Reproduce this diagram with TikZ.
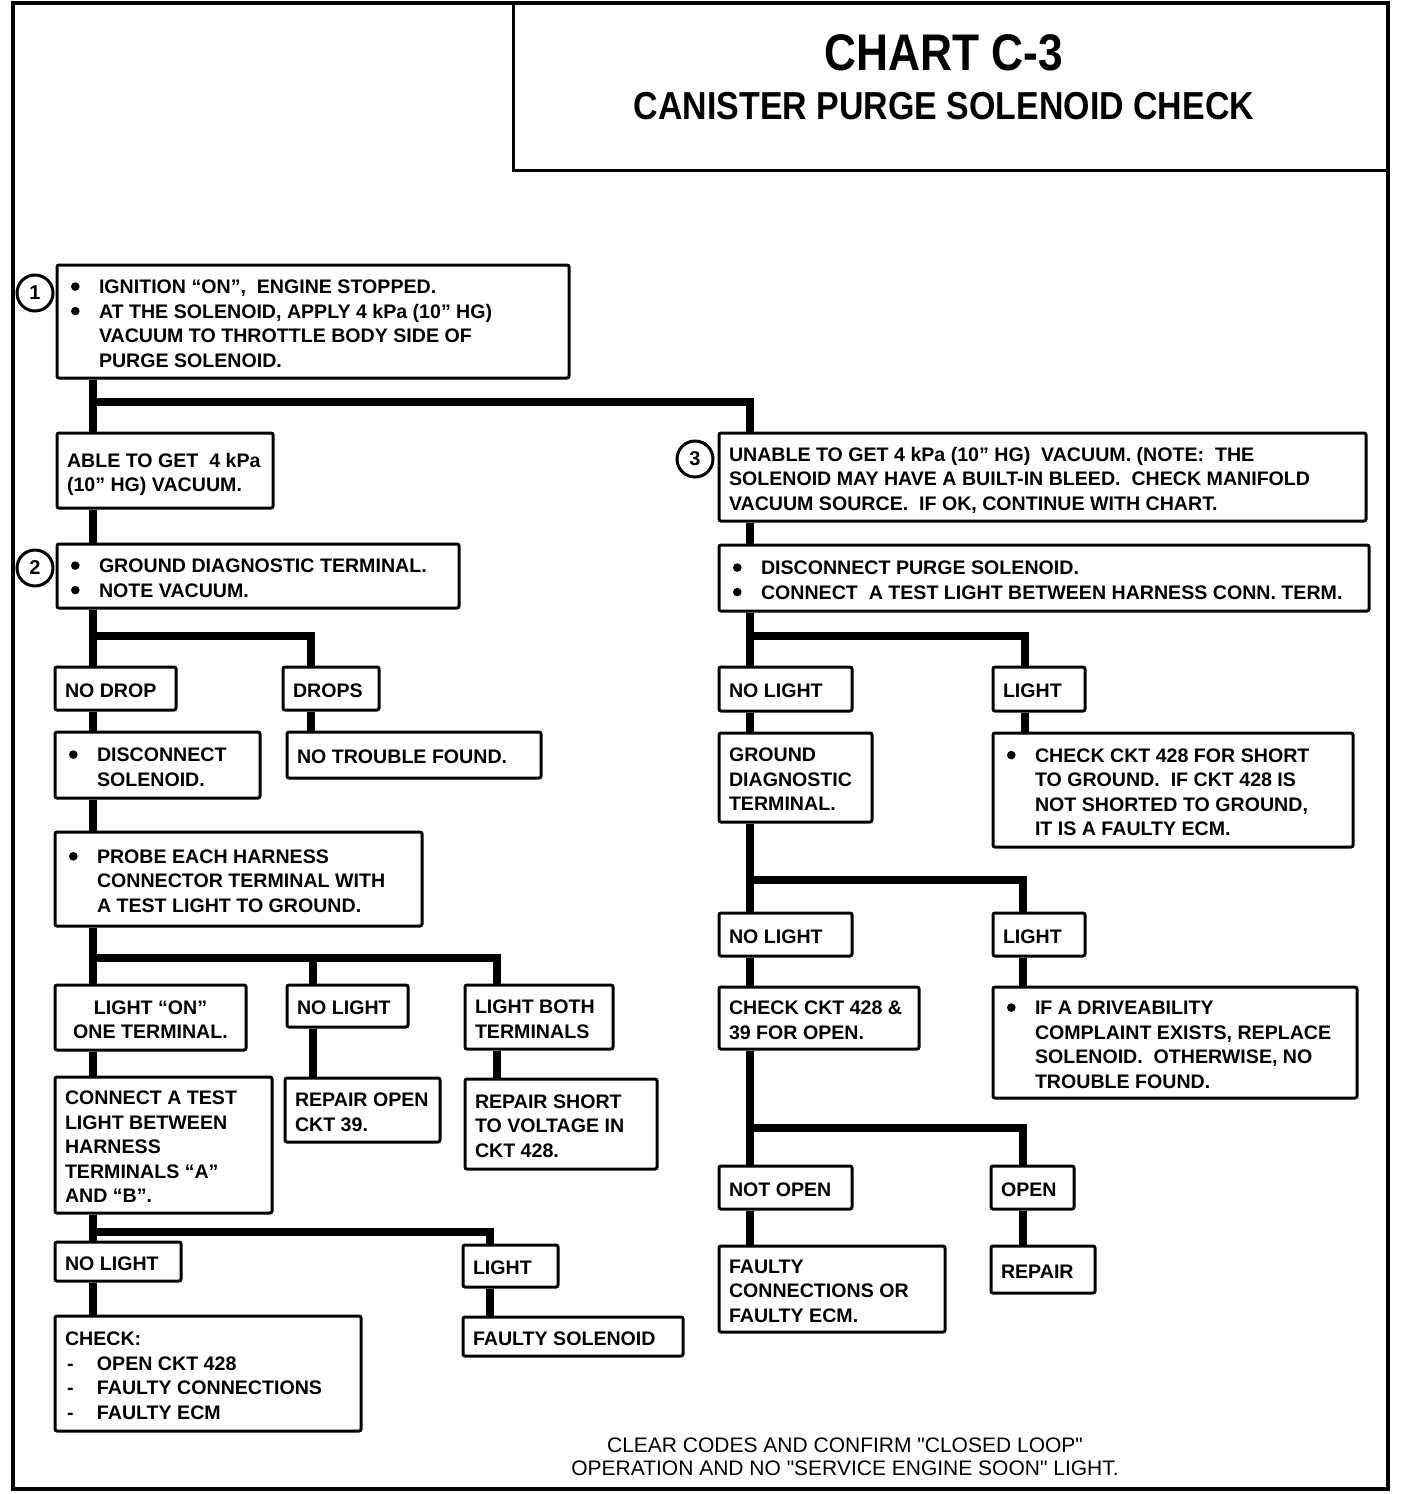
\documentclass[tikz,border=0pt]{standalone}
\usepackage{fontspec}
\setmainfont{Liberation Sans}
\usepackage{graphicx}
\font\footfnt="Liberation Sans" at 21pt
\newcommand{\bxfont}{\bfseries\fontsize{19.6}{24.5}\selectfont}
\newcommand{\bul}{\makebox[32pt][l]{\hspace{4pt}\tikz[baseline={(0pt,-7pt)}]{\fill (0pt,0pt) circle (4.3pt);}}}
\newcommand{\ind}{\hspace*{32pt}}
\newcommand{\dsh}{\makebox[32pt][l]{\hspace{2pt}-}}
\tikzset{
  box/.style={draw, line width=3pt, fill=white, rounded corners=2pt, inner xsep=10pt, inner ysep=1pt, font=\bxfont},
  conn/.style={line width=8pt},
  numc/.style={circle, draw, line width=3pt, fill=white, minimum size=36pt, inner sep=0pt, font=\bfseries\fontsize{20}{20}\selectfont},
}
% #1 alignment (l or c), #2 name, #3 x1, #4 y1, #5 x2, #6 y2, #7 text
\newcommand{\cbox}[7][l]{%
  \pgfmathsetmacro\cbW{#5-#3}%
  \pgfmathsetmacro\cbH{#6-#4}%
  \pgfmathsetmacro\cbT{#5-#3-20}%
  \pgfmathsetmacro\cbX{(#3+#5)/2}%
  \pgfmathsetmacro\cbY{(#4+#6)/2}%
  \node[box, minimum width=\cbW pt, minimum height=\cbH pt] (#2) at (\cbX,\cbY)
    {\makebox[\cbT pt][#1]{\begin{tabular}{@{}#1@{}}\rule{0pt}{25pt}#7\end{tabular}}};}
\begin{document}
\begin{tikzpicture}[x=1pt,y=-1pt]
\useasboundingbox (0,0) rectangle (1408,1494);
% outer frame and title
\draw[line width=4pt] (13,3) rectangle (1388,1489);
\node[draw, line width=3pt, minimum width=875pt, minimum height=167pt, inner sep=0pt] (tbox) at (950.5,86.5) {};
\node[font=\bfseries\fontsize{51.5}{52}\selectfont, inner sep=0pt] (titleA) at (944,53) {\scalebox{0.86}[1]{CHART C-3}};
\node[font=\bfseries\fontsize{39}{40}\selectfont, inner sep=0pt] (titleB) at (944,106) {\scalebox{0.87}[1]{CANISTER PURGE SOLENOID CHECK}};

% trunk coordinates
\coordinate (xL) at (93,0);
\coordinate (xR) at (750,0);
\coordinate (j1) at (93,402);
\coordinate (j2) at (93,636);
\coordinate (j3) at (93,958);
\coordinate (j4) at (93,1232);
\coordinate (j5) at (750,636);
\coordinate (j6) at (750,880);
\coordinate (j7) at (750,1128);

% ---- boxes ----
\cbox{b1}{57}{265}{569}{378}{\bul IGNITION “ON”,\ \ ENGINE STOPPED.\\ \bul AT THE SOLENOID, APPLY 4 kPa (10” HG)\\ \ind VACUUM TO THROTTLE BODY SIDE OF\\ \ind PURGE SOLENOID.}
\cbox{able}{57}{433}{273}{508}{ABLE TO GET\ \ 4 kPa\\ (10” HG) VACUUM.}
\cbox{b3}{719}{433}{1366}{521}{UNABLE TO GET 4 kPa (10” HG)\ \ VACUUM. (NOTE:\ \ THE\\ SOLENOID MAY HAVE A BUILT-IN BLEED.\ \ CHECK MANIFOLD\\ VACUUM SOURCE.\ \ IF OK, CONTINUE WITH CHART.}
\cbox{b2}{57}{544}{459}{608}{\bul GROUND DIAGNOSTIC TERMINAL.\\ \bul NOTE VACUUM.}
\cbox{dp}{719}{545}{1369}{611}{\bul DISCONNECT PURGE SOLENOID.\\ \bul CONNECT\ \ A TEST LIGHT BETWEEN HARNESS CONN. TERM.}
\cbox{nodrop}{55}{667}{176}{710}{NO DROP}
\cbox{drops}{283}{667}{379}{710}{DROPS}
\cbox{dsol}{55}{732}{260}{798}{\bul DISCONNECT\\ \ind SOLENOID.}
\cbox{ntf}{287}{732}{541}{778}{NO TROUBLE FOUND.}
\cbox{probe}{55}{832}{422}{926}{\bul PROBE EACH HARNESS\\ \ind CONNECTOR TERMINAL WITH\\ \ind A TEST LIGHT TO GROUND.}
\cbox[c]{lon}{55}{985}{246}{1050}{LIGHT “ON”\\ ONE TERMINAL.}
\cbox{nl1}{287}{985}{408}{1027}{NO LIGHT}
\cbox{lboth}{465}{985}{613}{1049}{LIGHT BOTH\\ TERMINALS}
\cbox{ctl}{55}{1077}{272}{1213}{CONNECT A TEST\\ LIGHT BETWEEN\\ HARNESS\\ TERMINALS “A”\\ AND “B”.}
\cbox{rop}{285}{1078}{440}{1142}{REPAIR OPEN\\ CKT 39.}
\cbox{rsh}{465}{1079}{657}{1169}{REPAIR SHORT\\ TO VOLTAGE IN\\ CKT 428.}
\cbox{nl2}{55}{1242}{181}{1281}{NO LIGHT}
\cbox{l2}{463}{1245}{558}{1287}{LIGHT}
\cbox{chk}{55}{1316}{361}{1431}{CHECK:\\ \dsh OPEN CKT 428\\ \dsh FAULTY CONNECTIONS\\ \dsh FAULTY ECM}
\cbox{fsol}{463}{1317}{683}{1356}{FAULTY SOLENOID}
\cbox{nlr1}{719}{667}{852}{711}{NO LIGHT}
\cbox{lr1}{993}{667}{1085}{711}{LIGHT}
\cbox{gdt}{719}{733}{872}{822}{GROUND\\ DIAGNOSTIC\\ TERMINAL.}
\cbox{cks}{993}{733}{1353}{847}{\bul CHECK CKT 428 FOR SHORT\\ \ind TO GROUND.\ \ IF CKT 428 IS\\ \ind NOT SHORTED TO GROUND,\\ \ind IT IS A FAULTY ECM.}
\cbox{nlr2}{719}{913}{852}{956}{NO LIGHT}
\cbox{lr2}{993}{913}{1085}{956}{LIGHT}
\cbox{cko}{719}{987}{919}{1049}{CHECK CKT 428 \&\\ 39 FOR OPEN.}
\cbox{drv}{993}{987}{1357}{1098}{\bul IF A DRIVEABILITY\\ \ind COMPLAINT EXISTS, REPLACE\\ \ind SOLENOID.\ \ OTHERWISE, NO\\ \ind TROUBLE FOUND.}
\cbox{nop}{719}{1166}{852}{1209}{NOT OPEN}
\cbox{opn}{991}{1166}{1074}{1209}{OPEN}
\cbox{fce}{719}{1246}{945}{1332}{FAULTY\\ CONNECTIONS OR\\ FAULTY ECM.}
\cbox{rep}{991}{1246}{1095}{1293}{REPAIR}

% step number circles
\node[numc] (c1) at (35,293) {1};
\node[numc] (c2) at (35,568) {2};
\node[numc] (c3) at (695,459) {3};

% ---- connectors ----
\draw[conn] (b1.south -| xL) -- (able.north -| xL);
\draw[conn] (j1) -| (b3.north -| xR);
\draw[conn] (able.south -| xL) -- (b2.north -| xL);
\draw[conn] (b3.south -| xR) -- (dp.north -| xR);
% left: ground diag
\draw[conn] (b2.south -| xL) -- (nodrop.north -| xL);
\draw[conn] (j2) -| ([xshift=-20pt]drops.north);
\draw[conn] (nodrop.south -| xL) -- (dsol.north -| xL);
\draw[conn] ([xshift=-20pt]drops.south) -- ([xshift=-20pt]drops.south |- ntf.north);
\draw[conn] (dsol.south -| xL) -- (probe.north -| xL);
% probe branches
\draw[conn] (probe.south -| xL) -- (lon.north -| xL);
\draw[conn] (j3) -| ([xshift=-42pt]lboth.north);
\draw[conn] ([xshift=-34.5pt]nl1.north |- j3) -- ([xshift=-34.5pt]nl1.north);
\draw[conn] (lon.south -| xL) -- (ctl.north -| xL);
\draw[conn] ([xshift=-34.5pt]nl1.south) -- ([xshift=-34.5pt]nl1.south |- rop.north);
\draw[conn] ([xshift=-42pt]lboth.south) -- ([xshift=-42pt]lboth.south |- rsh.north);
% connect test light branches
\draw[conn] (ctl.south -| xL) -- (nl2.north -| xL);
\draw[conn] (j4) -| ([xshift=-20.5pt]l2.north);
\draw[conn] (nl2.south -| xL) -- (chk.north -| xL);
\draw[conn] ([xshift=-20.5pt]l2.south) -- ([xshift=-20.5pt]l2.south |- fsol.north);
% right side
\draw[conn] (dp.south -| xR) -- (nlr1.north -| xR);
\draw[conn] (j5) -| ([xshift=-14pt]lr1.north);
\draw[conn] (nlr1.south -| xR) -- (gdt.north -| xR);
\draw[conn] ([xshift=-14pt]lr1.south) -- ([xshift=-14pt]lr1.south |- cks.north);
\draw[conn] (gdt.south -| xR) -- (nlr2.north -| xR);
\draw[conn] (j6) -| ([xshift=-16pt]lr2.north);
\draw[conn] (nlr2.south -| xR) -- (cko.north -| xR);
\draw[conn] ([xshift=-16pt]lr2.south) -- ([xshift=-16pt]lr2.south |- drv.north);
\draw[conn] (cko.south -| xR) -- (nop.north -| xR);
\draw[conn] (j7) -| ([xshift=-9.5pt]opn.north);
\draw[conn] (nop.south -| xR) -- (fce.north -| xR);
\draw[conn] ([xshift=-9.5pt]opn.south) -- ([xshift=-9.5pt]opn.south |- rep.north);

% footer
\node[font={\footfnt\baselineskip=23.5pt}, align=center, inner sep=0pt] (foot) at (845,1457)
  {CLEAR CODES AND CONFIRM "CLOSED LOOP"\\ OPERATION AND NO "SERVICE ENGINE SOON" LIGHT.};
\end{tikzpicture}
\end{document}
